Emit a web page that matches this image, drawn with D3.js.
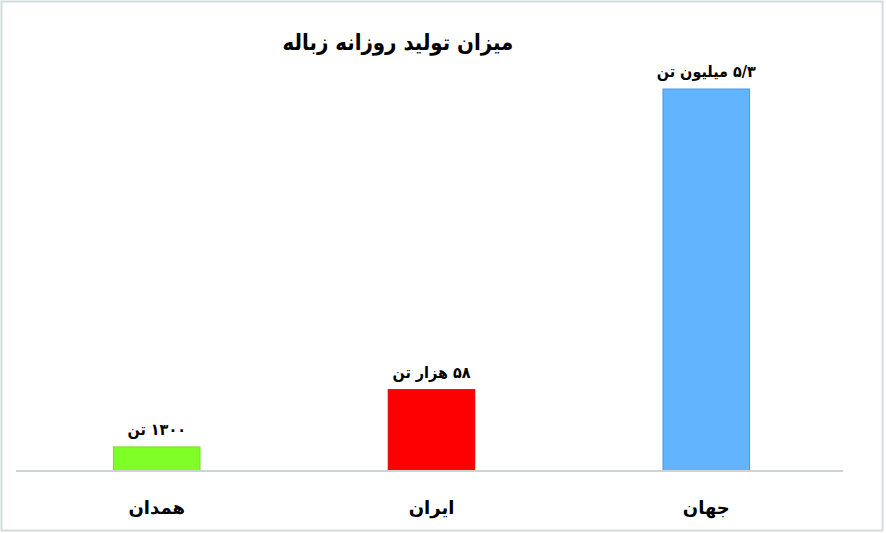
<!DOCTYPE html>
<html lang="fa">
<head>
<meta charset="utf-8">
<script src="https://cdn.jsdelivr.net/npm/d3@7"></script>
<style>
  html, body { margin: 0; padding: 0; background: #fff; }
  svg { display: block; }
  text { font-family: "DejaVu Sans Condensed", "DejaVu Sans", sans-serif; font-weight: bold; fill: #000; }
</style>
</head>
<body>
<svg id="chart" width="886" height="533"></svg>
<script>
const title = "میزان تولید روزانه زباله";
const categories = ["همدان", "ایران", "جهان"];
const valueLabels = ["۱۳۰۰ تن", "۵۸ هزار تن", "۵/۳ میلیون تن"];
// relative bar lengths as drawn in the picture (largest = 100)
const barValues = [6.3, 21.3, 100];
const barColors = ["#80ff26", "#ff0000", "#63b4ff"];
const barStrokes = ["#6ee01a", "#e00000", "#3a9af5"];

const svg = d3.select("#chart");

svg.append("rect")
  .attr("x", 1.5).attr("y", 1.5)
  .attr("width", 881).attr("height", 529)
  .attr("fill", "#fff")
  .attr("stroke", "#d5dcdc").attr("stroke-width", 2);

const x = d3.scaleBand().domain(categories).range([20, 843]).paddingInner(0.685).paddingOuter(0.34);
const y = d3.scaleLinear().domain([0, 100]).range([471, 89]);

svg.append("text")
  .attr("x", 398).attr("y", 50)
  .attr("text-anchor", "middle")
  .attr("direction", "rtl")
  .style("font-size", "22px")
  .text(title);

svg.selectAll("rect.bar")
  .data(barValues)
  .join("rect")
  .attr("class", "bar")
  .attr("x", (d, i) => x(categories[i]))
  .attr("y", d => y(d))
  .attr("width", x.bandwidth())
  .attr("height", d => y(0) - y(d))
  .attr("fill", (d, i) => barColors[i])
  .attr("stroke", (d, i) => barStrokes[i])
  .attr("stroke-width", 1);

const axis = d3.axisBottom(x).tickSize(0).tickPadding(30);
const gx = svg.append("g").attr("transform", `translate(0,${y(0)})`).call(axis);
gx.select(".domain").attr("stroke", "#ccd3d3").attr("stroke-width", 2)
  .attr("d", "M16,0H843");
gx.selectAll(".tick text")
  .attr("direction", "rtl")
  .style("font-size", "18px")
  .style("font-family", "'DejaVu Sans', sans-serif")
  .style("font-weight", "bold")
  .attr("fill", "#000");

svg.selectAll("text.val")
  .data(barValues)
  .join("text")
  .attr("class", "val")
  .attr("x", (d, i) => x(categories[i]) + x.bandwidth() / 2)
  .attr("y", d => y(d) - 12)
  .attr("text-anchor", "middle")
  .attr("direction", "rtl")
  .style("font-size", "16px")
  .text((d, i) => valueLabels[i]);
</script>
</body>
</html>
